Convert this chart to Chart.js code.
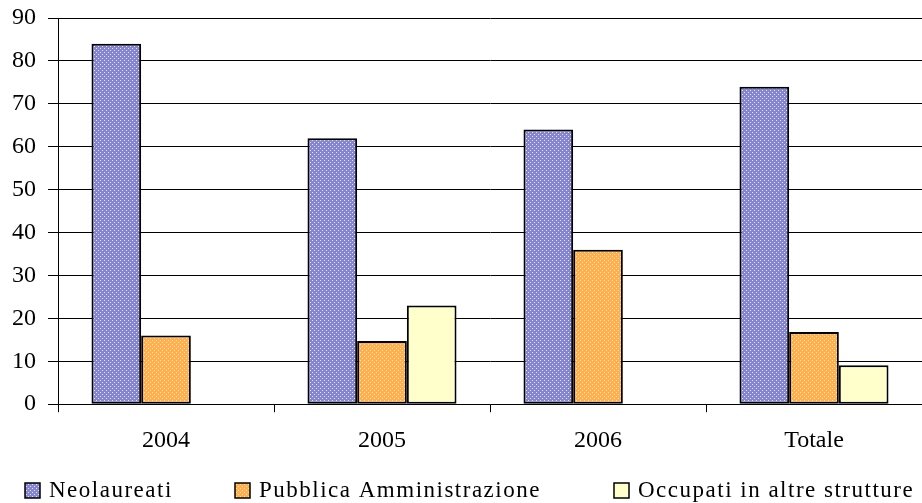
<!DOCTYPE html>
<html>
<head>
<meta charset="utf-8">
<script src="https://cdn.jsdelivr.net/npm/chart.js@4/dist/chart.umd.min.js"></script>
<style>
  html, body { margin: 0; padding: 0; background: #fff; }
  #wrap { width: 922px; height: 503px; }
</style>
</head>
<body>
<div id="wrap"><canvas id="myChart"></canvas></div>
<script>
const categorie = ['2004', '2005', '2006', 'Totale'];
const neolaureati = [84, 62, 64, 74];
const pubblicaAmm = [16, 14.7, 36, 16.8];
const altreStrutture = [null, 23, null, 9.1];
const yTicks = [0, 90, 10];

// piccolo motivo a scacchi come nel grafico originale
function motivo(base, chiaro) {
    const c = document.createElement('canvas');
    c.width = 4; c.height = 4;
    const g = c.getContext('2d');
    g.fillStyle = base;
    g.fillRect(0, 0, 4, 4);
    g.fillStyle = chiaro;
    g.fillRect(0, 0, 1, 1);
    g.fillRect(2, 2, 1, 1);
    return g.createPattern(c, 'repeat');
}

const ctx = document.getElementById('myChart').getContext('2d');
const bluPattern = motivo('#8686d0', '#e4e4fa');
const arancioPattern = motivo('#ffb04c', '#ffe6c0');

const data = {
    labels: categorie,
    datasets: [
        { label: 'Neolaureati', data: neolaureati, backgroundColor: bluPattern },
        { label: 'Pubblica Amministrazione', data: pubblicaAmm, backgroundColor: arancioPattern },
        { label: 'Occupati in altre strutture', data: altreStrutture, backgroundColor: '#ffffcc' }
    ].map(d => Object.assign(d, { borderColor: '#000', borderWidth: 2, borderSkipped: false }))
};

const serif = '"Liberation Serif", "DejaVu Serif", serif';

// legenda disegnata a mano, per avere le voci distanziate come nell'originale
const legendaLibera = {
    id: 'legendaLibera',
    afterDraw(chart, args, opts) {
        const c = chart.ctx;
        c.save();
        c.font = opts.size + 'px ' + serif;
        c.letterSpacing = '1.5px';
        c.textBaseline = 'middle';
        chart.data.datasets.forEach((ds, i) => {
            const x = opts.posizioni[i];
            const y = opts.y;
            c.fillStyle = ds.backgroundColor;
            c.fillRect(x, y - 7, 15, 15);
            c.strokeStyle = '#000';
            c.lineWidth = 1.5;
            c.strokeRect(x, y - 7, 15, 15);
            c.fillStyle = '#000';
            c.fillText(ds.label, x + 24, y + 1);
        });
        c.restore();
    }
};

const myChart = new Chart(ctx, {
    type: 'bar',
    data: data,
    plugins: [legendaLibera],
    options: {
        responsive: true,
        maintainAspectRatio: false,
        animation: false,
        layout: { padding: { left: 0, right: 0, top: 0, bottom: 34 } },
        datasets: { bar: { categoryPercentage: 0.69, barPercentage: 1.0 } },
        scales: {
            x: {
                grid: { drawOnChartArea: false, drawTicks: true, tickLength: 8, color: '#000', offset: true },
                border: { color: '#000', width: 1 },
                ticks: { color: '#000', font: { family: serif, size: 24 }, padding: 14 }
            },
            y: {
                min: yTicks[0], max: yTicks[1],
                grid: { color: '#000', lineWidth: 1, tickLength: 10 },
                border: { color: '#000', width: 1 },
                ticks: { stepSize: yTicks[2], autoSkip: false, color: '#000', font: { family: serif, size: 24, lineHeight: 0.5 }, padding: 12 }
            }
        },
        plugins: {
            legend: { display: false },
            tooltip: { enabled: false },
            legendaLibera: { posizioni: [25, 235, 614], y: 490, size: 23 }
        }
    }
});
</script>
</body>
</html>
